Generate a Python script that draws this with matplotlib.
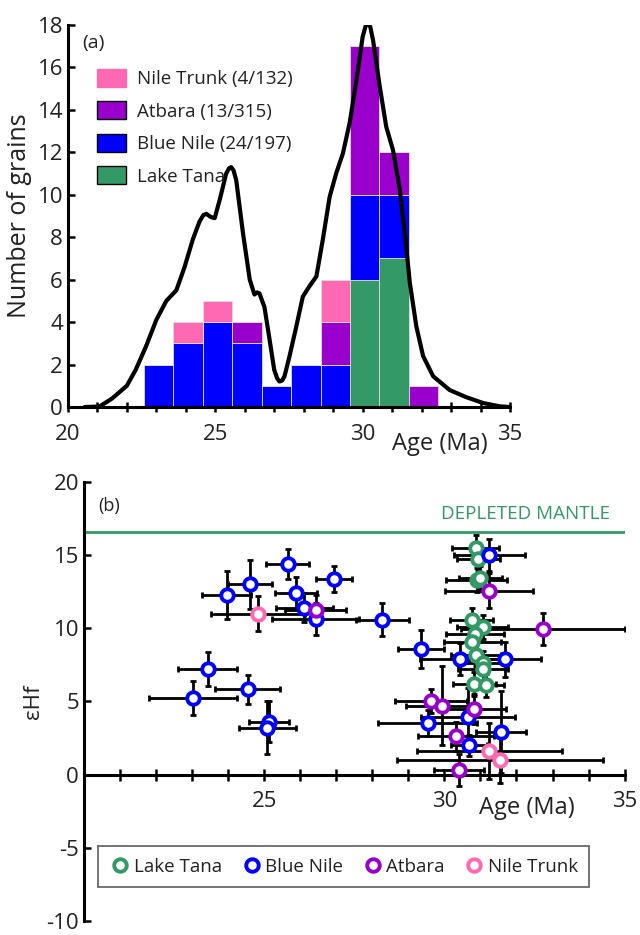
import numpy as np
import matplotlib
matplotlib.use("Agg")
import matplotlib.pyplot as plt
from matplotlib.patches import Patch
from matplotlib.lines import Line2D

plt.rcParams["font.family"] = ["Open Sans", "DejaVu Sans"]
plt.rcParams["axes.unicode_minus"] = False

green = "#339966"
blue = "#0000FF"
purple = "#9900CC"
pink = "#FF69B4"

# (a) stacked histogram, 1 Ma bins
bin_centers = [23.07, 24.07, 25.07, 26.07, 27.07, 28.07, 29.07, 30.07, 31.07, 32.07]
lake_tana_n = [0, 0, 0, 0, 0, 0, 0, 6, 7, 0]
blue_nile_n = [2, 3, 4, 3, 1, 2, 2, 4, 3, 0]
atbara_n = [0, 0, 0, 1, 0, 0, 2, 7, 2, 1]
nile_trunk_n = [0, 1, 1, 0, 0, 0, 2, 0, 0, 0]

# density curve
kde_age = [20.57, 21.07, 21.5, 22.0, 22.3, 22.65, 23.0, 23.34, 23.68, 23.96, 24.24,
           24.47, 24.6, 24.7, 24.85, 24.98, 25.15, 25.37, 25.47, 25.54, 25.62, 25.71,
           25.94, 26.17, 26.33, 26.42, 26.5, 26.67, 26.84, 27.0, 27.1, 27.18, 27.27,
           27.35, 27.52, 27.75, 27.97, 28.2, 28.43, 28.65, 28.88, 29.1, 29.33, 29.56,
           29.79, 30.0, 30.1, 30.18, 30.26, 30.35, 30.58, 30.8, 31.03, 31.26, 31.43,
           31.6, 31.82, 32.05, 32.39, 32.95, 33.5, 34.08, 34.65, 35.0]
kde_n = [0.0, 0.02, 0.4, 1.0, 1.75, 2.85, 4.1, 5.0, 5.5, 6.6, 7.9,
         8.75, 9.05, 9.1, 8.95, 8.9, 9.75, 11.0, 11.25, 11.3, 11.15, 10.7,
         8.2, 6.0, 5.3, 5.4, 5.35, 4.7, 3.2, 1.75, 1.35, 1.2, 1.25,
         1.45, 2.4, 3.8, 5.2, 5.7, 6.15, 7.9, 9.9, 11.0, 11.95, 13.4,
         15.4, 17.45, 17.95, 18.1, 17.9, 17.3, 15.1, 13.2, 12.1, 10.25, 8.2,
         5.85, 3.8, 2.4, 1.45, 0.8, 0.47, 0.19, 0.03, 0.0]

# (b) eHf vs age: x, y, xerr, yerr
tana_x = [30.87, 30.94, 30.9, 31.0, 30.76, 31.06, 30.85, 30.78, 30.88, 31.06, 31.07, 30.83, 31.15]
tana_y = [15.48, 14.77, 13.3, 13.47, 10.6, 10.1, 9.6, 9.06, 8.2, 7.64, 7.2, 6.2, 6.1]
tana_xe = [0.65, 0.6, 0.85, 0.6, 0.6, 0.7, 0.8, 0.8, 0.7, 0.7, 0.7, 0.6, 0.5]
tana_ye = [0.9, 0.8, 0.8, 0.8, 0.8, 0.8, 0.8, 0.8, 0.8, 0.8, 0.8, 0.8, 0.8]

bn_x = [25.65, 24.61, 23.96, 25.88, 26.12, 26.43, 28.28, 26.94, 29.35, 23.43, 23.04,
        24.54, 25.14, 25.09, 31.25, 30.43, 31.67, 30.65, 29.54, 31.57, 30.69]
bn_y = [14.4, 13.0, 12.26, 12.4, 11.4, 10.66, 10.6, 13.36, 8.6, 7.24, 5.25,
        5.82, 3.6, 3.2, 15.0, 7.92, 7.88, 3.92, 3.52, 2.92, 2.0]
bn_xe = [0.6, 0.6, 0.67, 0.59, 0.8, 1.2, 0.73, 0.5, 0.63, 0.81, 1.22,
         0.91, 0.56, 0.8, 0.99, 1.1, 1.0, 1.3, 1.37, 0.7, 0.5]
bn_ye = [1.0, 1.7, 1.65, 1.1, 1.0, 1.1, 1.15, 0.9, 1.3, 1.16, 1.15,
         1.0, 1.4, 1.8, 1.1, 1.1, 1.2, 2.0, 0.9, 2.8, 0.7]

at_x = [26.43, 31.24, 32.73, 29.63, 29.94, 30.82, 30.33, 30.4]
at_y = [11.25, 12.56, 9.93, 5.02, 4.72, 4.48, 2.62, 0.34]
at_xe = [0.85, 1.22, 2.28, 1.0, 1.0, 0.9, 1.05, 0.7]
at_ye = [1.0, 1.2, 1.1, 0.8, 2.7, 1.0, 1.0, 1.1]

nt_x = [24.83, 31.25, 31.54]
nt_y = [11.0, 1.6, 1.03]
nt_xe = [1.3, 2.0, 2.86]
nt_ye = [1.2, 1.9, 1.6]

depleted_mantle = 16.6

fig = plt.figure(figsize=(6.4, 9.35), dpi=100)

# ---------- panel (a)
ax1 = fig.add_axes([0.106, 0.5647, 0.691, 0.4086])
bottom = np.zeros(len(bin_centers))
for counts, col in [(lake_tana_n, green), (blue_nile_n, blue), (atbara_n, purple), (nile_trunk_n, pink)]:
    ax1.bar(bin_centers, counts, width=1.0, bottom=bottom, color=col,
            edgecolor="#dddddd", linewidth=0.6, zorder=2)
    bottom += np.array(counts)
ax1.plot(kde_age, kde_n, color="black", lw=3, zorder=3, solid_capstyle="round",
         solid_joinstyle="round")

ax1.set_xlim(20, 35)
ax1.set_ylim(0, 18)
for s in ["top", "right"]:
    ax1.spines[s].set_visible(False)
for s in ["left", "bottom"]:
    ax1.spines[s].set_linewidth(2.2)
ax1.set_xticks([20, 25, 30, 35])
ax1.set_xticks(np.arange(21, 35), minor=True)
ax1.set_yticks(np.arange(0, 19, 2))
ax1.tick_params(axis="x", which="both", direction="inout", length=7, width=1.8,
                labelsize=16, pad=9, colors="black", labelcolor="#222222")
ax1.tick_params(axis="y", direction="in", length=5, width=1.8, labelsize=16,
                labelcolor="#222222")
ax1.set_ylabel("Number of grains", fontsize=18, color="#222222", labelpad=4)
ax1.text(32.6, -1.75, "Age (Ma)", fontsize=17, ha="center", va="center", color="#222222")
ax1.text(20.5, 16.9, "(a)", fontsize=14, color="#222222")

handles1 = [Patch(facecolor=pink, edgecolor=pink, label="Nile Trunk (4/132)"),
            Patch(facecolor=purple, edgecolor="black", label="Atbara (13/315)"),
            Patch(facecolor=blue, edgecolor="black", label="Blue Nile (24/197)"),
            Patch(facecolor=green, edgecolor="black", label="Lake Tana")]
ax1.legend(handles=handles1, loc="upper left", bbox_to_anchor=(0.05, 0.905), frameon=False,
           fontsize=13.5, handlelength=1.5, handleheight=1.1, labelspacing=0.7,
           handletextpad=0.6, labelcolor="#222222", borderaxespad=0)

# ---------- panel (b)
ax2 = fig.add_axes([0.131, 0.015, 0.845, 0.4695])
ax2.axhline(depleted_mantle, color=green, lw=2, zorder=1)
ax2.text(34.6, depleted_mantle + 0.6, "DEPLETED MANTLE", color=green, fontsize=13.5,
         ha="right", va="bottom")

groups = [(tana_x, tana_y, tana_xe, tana_ye, green, "Lake Tana"),
          (bn_x, bn_y, bn_xe, bn_ye, blue, "Blue Nile"),
          (at_x, at_y, at_xe, at_ye, purple, "Atbara"),
          (nt_x, nt_y, nt_xe, nt_ye, pink, "Nile Trunk")]
for gx, gy, gxe, gye, col, lab in groups:
    ax2.errorbar(gx, gy, xerr=gxe, yerr=gye, fmt="none", ecolor="black",
                 elinewidth=2, capsize=2.5, capthick=2, zorder=2)
for gx, gy, gxe, gye, col, lab in groups:
    ax2.plot(gx, gy, "o", ms=9, mfc="white", mec=col, mew=2.8, zorder=4, ls="none")

ax2.set_xlim(20, 35)
ax2.set_ylim(-10, 20)
ax2.spines["top"].set_visible(False)
ax2.spines["right"].set_visible(False)
ax2.spines["bottom"].set_position(("data", 0))
ax2.spines["bottom"].set_bounds(20, 35)
ax2.spines["left"].set_linewidth(2.2)
ax2.spines["bottom"].set_linewidth(2.2)
ax2.set_xticks([25, 30, 35])
ax2.set_xticks(np.arange(21, 35), minor=True)
ax2.set_yticks(np.arange(-10, 21, 5))
ax2.tick_params(axis="x", which="both", direction="inout", length=8, width=1.8,
                labelsize=16, pad=8, labelcolor="#222222")
ax2.tick_params(axis="y", direction="in", length=5, width=1.8, labelsize=16,
                labelcolor="#222222")
ax2.set_ylabel("εHf", fontsize=16, color="#222222", labelpad=2)
ax2.text(32.3, -2.3, "Age (Ma)", fontsize=17, ha="center", va="center", color="#222222")
ax2.text(20.4, 18.0, "(b)", fontsize=13, color="#222222")

handles2 = [Line2D([], [], marker="o", ls="none", ms=9, mfc="white", mec=g[4], mew=2.8,
                   label=g[5]) for g in groups]
leg = ax2.legend(handles=handles2, loc="upper left", bbox_to_anchor=(0.026, 0.17), ncol=4,
                 fontsize=13.5, frameon=True, fancybox=False, edgecolor="#444444",
                 handletextpad=0.1, columnspacing=1.0, borderpad=0.6, handlelength=1.2,
                 labelcolor="#222222", borderaxespad=0)
leg.get_frame().set_linewidth(1.3)

fig.savefig("out.png", dpi=100)
